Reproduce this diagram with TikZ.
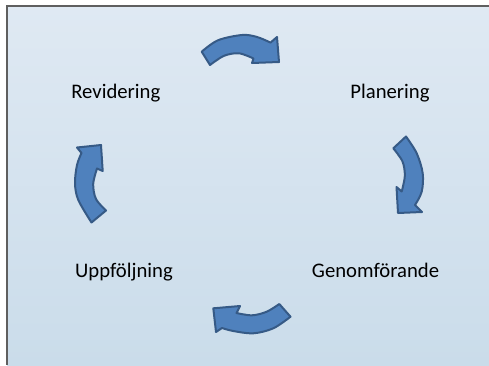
\documentclass[tikz,border=0pt]{standalone}
\usepackage{fontspec}
\setmainfont{Carlito}
\definecolor{bgtop}{RGB}{223,233,243}
\definecolor{bgbot}{RGB}{202,220,234}
\definecolor{arrfill}{RGB}{79,129,189}
\definecolor{arrline}{RGB}{54,90,134}
\definecolor{frameline}{RGB}{95,95,95}
\begin{document}
\begin{tikzpicture}[x=1pt,y=-1pt,
  cyc/.style={fill=arrfill,draw=arrline,line width=2pt,line join=round},
  lbl/.style={inner sep=0pt,anchor=base,font=\fontsize{20.7}{24}\selectfont,text=black},
  sm/.style={smooth,tension=0.55}]
\useasboundingbox (0,0) rectangle (489,365);
\fill[white] (0,0) rectangle (489,365);
\shade[top color=bgtop,bottom color=bgbot] (7,6) rectangle (489,365);
\draw[frameline,line width=1.3pt] (7,365) -- (7,6) -- (489,6);

% labels
\node[lbl] (rev) at (115.8,98.3) {Revidering};
\node[lbl] (plan) at (390,98.3) {Planering};
\node[lbl] (upp) at (124,277) {Uppföljning};
\node[lbl] (gen) at (375.5,277) {Genomförande};

% top arrow
\draw[cyc] plot[sm] coordinates {(201.7,51.7) (217.9,40.3) (242,35) (256.8,36.9) (270.5,42.6)}
  -- (277,37) -- (279,62) -- (252,63)
  -- plot[sm] coordinates {(253.5,58.5) (239,53.3) (224,55.8) (210,65)} -- cycle;
% right arrow
\draw[cyc] plot[sm] coordinates {(406,136.5) (416.7,153.3) (422.7,173.3) (421.7,191.7) (415,205)}
  -- (422,212) -- (398,213) -- (396.5,187)
  -- plot[sm] coordinates {(401.7,191.5) (404.8,176) (402.5,161.5) (393.3,148.3)} -- cycle;
% bottom arrow
\draw[cyc] plot[sm] coordinates {(290.5,316.7) (273.3,328.3) (253.3,333.3) (233.3,331) (222,328)}
  -- (216,332) -- (213.3,308.3) -- (240,306)
  -- plot[sm] coordinates {(236.5,313) (252,315.3) (266.7,311.7) (279.3,304)} -- cycle;
% left arrow
\draw[cyc] plot[sm] coordinates {(91.5,222.5) (78.3,200) (75,183.3) (77,165) (81.5,153)}
  -- (77,147.5) -- (101,145) -- (102.7,171)
  -- plot[sm] coordinates {(97,168.5) (93.2,184) (96,199) (106,210.5)} -- cycle;
\end{tikzpicture}
\end{document}
